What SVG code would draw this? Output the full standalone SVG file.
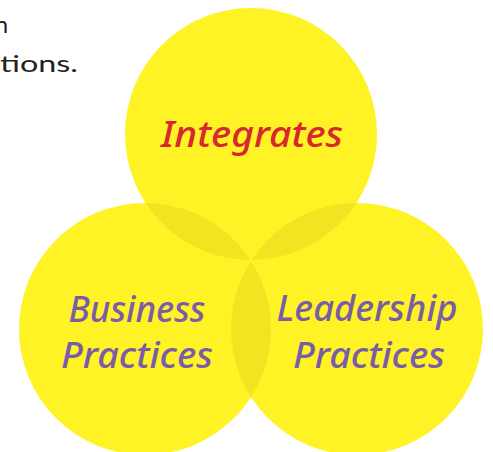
<svg xmlns="http://www.w3.org/2000/svg" width="493" height="452" viewBox="0 0 493 452">
<style>
.c{fill:#FFF225}
.o{fill:#F2E420}
.lbl{font-family:"Noto Sans","DejaVu Sans",sans-serif;font-style:italic;font-weight:500;font-size:36px;text-anchor:middle}
.red{fill:#D7282F}
.pur{fill:#7A5DA8}
.body{font-family:"Lato","Noto Sans",sans-serif;font-size:23px;fill:#222}
</style>
<defs>
<clipPath id="cT"><circle cx="251" cy="134" r="126"/></clipPath>
<clipPath id="cL"><circle cx="145" cy="329" r="126"/></clipPath>
</defs>
<text class="body" x="8" y="33" text-anchor="end">n</text>
<text class="body" x="0" y="72" textLength="78" lengthAdjust="spacingAndGlyphs">tions.</text>
<g id="node-integrates">
<circle class="c" cx="251" cy="134" r="126"/>
</g>
<g id="node-business">
<circle class="c" cx="145" cy="329" r="126"/>
</g>
<g id="node-leadership">
<circle class="c" cx="357" cy="329" r="126"/>
</g>
<g id="overlaps">
<circle class="o" cx="145" cy="329" r="126" clip-path="url(#cT)"/>
<circle class="o" cx="357" cy="329" r="126" clip-path="url(#cT)"/>
<circle class="o" cx="357" cy="329" r="126" clip-path="url(#cL)"/>
</g>
<g id="labels">
<text class="lbl red" x="252" y="147" textLength="182" lengthAdjust="spacingAndGlyphs">Integrates</text>
<text class="lbl pur" x="137" y="322" textLength="137" lengthAdjust="spacingAndGlyphs">Business</text>
<text class="lbl pur" x="137" y="368" textLength="152" lengthAdjust="spacingAndGlyphs">Practices</text>
<text class="lbl pur" x="367" y="321" textLength="181" lengthAdjust="spacingAndGlyphs">Leadership</text>
<text class="lbl pur" x="369" y="368" textLength="152" lengthAdjust="spacingAndGlyphs">Practices</text>
</g>
<g id="connectors"></g>
</svg>
